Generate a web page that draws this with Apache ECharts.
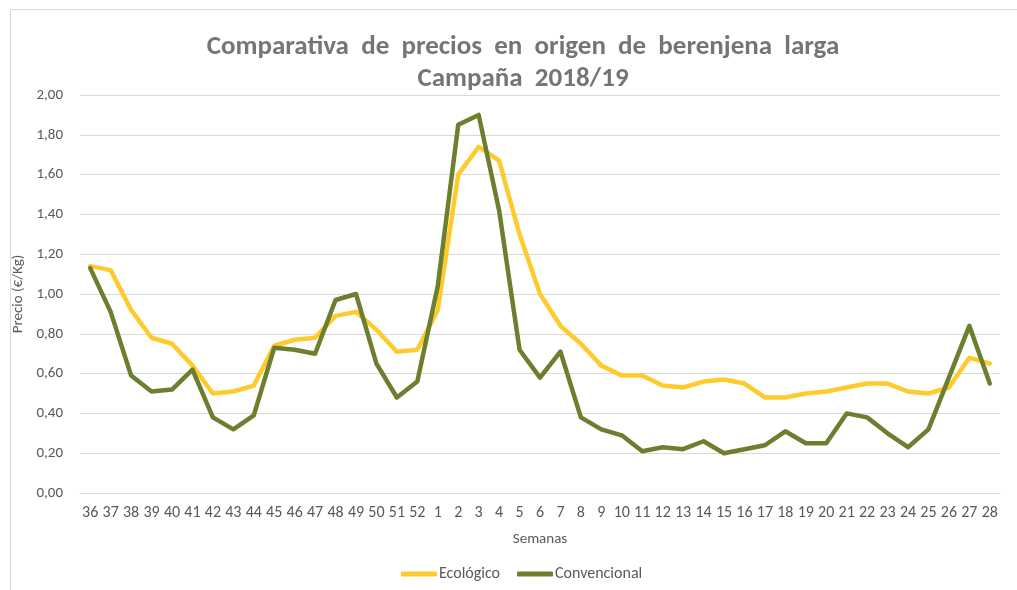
<!DOCTYPE html>
<html>
<head>
<meta charset="utf-8">
<script src="https://cdn.jsdelivr.net/npm/echarts@6/dist/echarts.min.js"></script>
<style>
html, body { margin: 0; padding: 0; background: #fff; }
#chart { width: 1017px; height: 590px; }
</style>
</head>
<body>
<div id="chart"></div>
<script>
// semanas de la campaña 2018/19
var semanas = ['36', '37', '38', '39', '40', '41', '42', '43', '44', '45', '46', '47', '48', '49', '50', '51', '52',
    '1', '2', '3', '4', '5', '6', '7', '8', '9', '10', '11', '12', '13', '14', '15', '16', '17', '18', '19', '20',
    '21', '22', '23', '24', '25', '26', '27', '28'];

var ecologico = [1.14, 1.12, 0.92, 0.78, 0.75, 0.64, 0.50, 0.51, 0.54, 0.74, 0.77, 0.78, 0.89, 0.91, 0.82, 0.71, 0.72,
    0.92, 1.60, 1.74, 1.67, 1.30, 1.00, 0.84, 0.75, 0.64, 0.59, 0.59, 0.54, 0.53, 0.56, 0.57, 0.55, 0.48, 0.48, 0.50, 0.51,
    0.53, 0.55, 0.55, 0.51, 0.50, 0.53, 0.68, 0.65];

var convencional = [1.13, 0.91, 0.59, 0.51, 0.52, 0.62, 0.38, 0.32, 0.39, 0.73, 0.72, 0.70, 0.97, 1.00, 0.65, 0.48, 0.56,
    1.04, 1.85, 1.90, 1.42, 0.72, 0.58, 0.71, 0.38, 0.32, 0.29, 0.21, 0.23, 0.22, 0.26, 0.20, 0.22, 0.24, 0.31, 0.25, 0.25,
    0.40, 0.38, 0.30, 0.23, 0.32, 0.58, 0.84, 0.55];

var fuente = 'Calibri, Carlito, "Open Sans", sans-serif';

var chart = echarts.init(document.getElementById('chart'));
var option = {
    backgroundColor: '#fff',
    animation: false,
    color: ['#FFCA2E', '#6B7F2E'],
    title: {
        text: 'Comparativa  de  precios  en  origen  de  berenjena  larga\nCampaña  2018/19',
        left: 518,
        textAlign: 'center',
        top: 26,
        textStyle: {
            fontFamily: fuente,
            fontSize: 27,
            fontWeight: 'bold',
            color: '#757575',
            lineHeight: 32
        }
    },
    graphic: [{
        // marco del gráfico
        type: 'rect',
        shape: { x: 10.5, y: 9.5, width: 1100, height: 700 },
        style: { fill: 'none', stroke: '#d9d9d9', lineWidth: 1 },
        silent: true
    }],
    legend: {
        top: 561,
        left: 396,
        itemWidth: 36,
        itemHeight: 5,
        itemGap: 17,
        icon: 'roundRect',
        textStyle: { fontFamily: fuente, fontSize: 16, color: '#595959', padding: [0, 0, 0, -3] },
        data: ['Ecológico', 'Convencional']
    },
    grid: {
        left: 80,
        right: 17,
        top: 95,
        bottom: 97
    },
    xAxis: {
        type: 'category',
        data: semanas,
        boundaryGap: true,
        name: 'Semanas',
        nameLocation: 'middle',
        nameGap: 39,
        nameTextStyle: { fontFamily: fuente, fontSize: 15, color: '#595959', letterSpacing: 1.5 },
        axisLine: { lineStyle: { color: '#d9d9d9' } },
        axisTick: { show: false },
        axisLabel: {
            interval: 0,
            margin: 12,
            fontFamily: fuente,
            fontSize: 16,
            color: '#595959'
        }
    },
    yAxis: {
        type: 'value',
        min: 0,
        max: 2,
        interval: 0.2,
        name: 'Precio (€/Kg)',
        nameLocation: 'middle',
        nameRotate: 90,
        nameGap: 51,
        nameTextStyle: { fontFamily: fuente, fontSize: 15, color: '#595959', letterSpacing: 1 },
        axisLine: { show: false },
        axisTick: { show: false },
        axisLabel: {
            margin: 17,
            fontFamily: fuente,
            fontSize: 15,
            color: '#595959',
            formatter: function (v) {
                return v.toFixed(2).replace('.', ',');
            }
        },
        splitLine: { lineStyle: { color: '#d9d9d9', width: 1 } }
    },
    series: [{
        name: 'Ecológico',
        type: 'line',
        data: ecologico,
        symbol: 'none',
        lineStyle: { width: 4.5, join: 'round', cap: 'round' }
    }, {
        name: 'Convencional',
        type: 'line',
        data: convencional,
        symbol: 'none',
        lineStyle: { width: 4.5, join: 'round', cap: 'round' }
    }]
};
chart.setOption(option);
</script>
</body>
</html>
